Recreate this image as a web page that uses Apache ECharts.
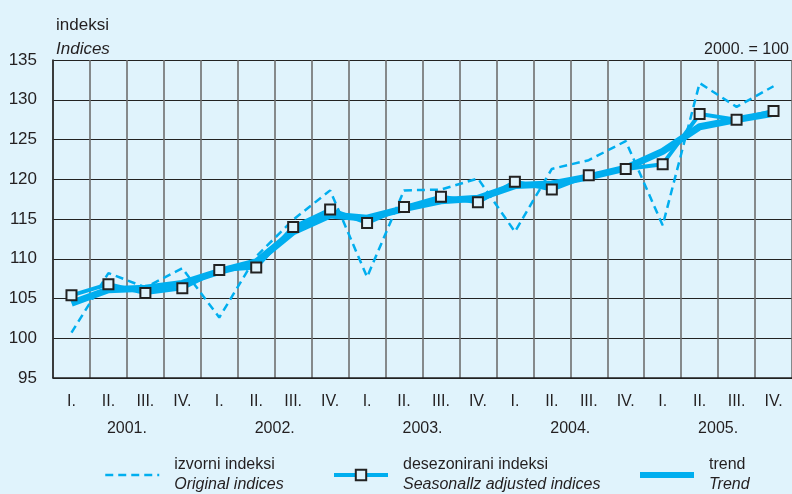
<!DOCTYPE html>
<html>
<head>
<meta charset="utf-8">
<script src="https://cdn.jsdelivr.net/npm/echarts@6/dist/echarts.min.js"></script>
<style>
  html, body { margin: 0; padding: 0; background: #e0f3fc; }
  #main { width: 792px; height: 494px; }
</style>
</head>
<body>
<div id="main"></div>
<script>
// kvartali i godine
var quarters = ['I.', 'II.', 'III.', 'IV.', 'I.', 'II.', 'III.', 'IV.', 'I.', 'II.', 'III.', 'IV.',
                'I.', 'II.', 'III.', 'IV.', 'I.', 'II.', 'III.', 'IV.'];
var years = ['2001.', '2002.', '2003.', '2004.', '2005.'];

// izvorni indeksi / original indices
var original = [100.7, 108.2, 106.4, 108.8, 102.6, 110.3, 114.9, 118.6, 107.7, 118.6,
                118.7, 120.1, 113.4, 121.3, 122.4, 124.8, 114.2, 132.1, 129.1, 131.7];
// desezonirani indeksi / seasonally adjusted
var adjusted = [105.4, 106.8, 105.7, 106.3, 108.6, 108.9, 114.0, 116.2, 114.5, 116.5,
                117.8, 117.1, 119.7, 118.7, 120.5, 121.3, 121.9, 128.2, 127.5, 128.6];
// trend
var trend = [104.4, 106.1, 106.3, 106.9, 108.4, 109.6, 113.4, 115.5, 115.1, 116.3,
             117.3, 117.6, 119.2, 119.4, 120.3, 121.4, 123.5, 126.6, 127.5, 128.3];

var FONT = "'Liberation Sans', Arial, sans-serif";
var FS = 16;
var TXT = '#231f20';
var BLUE = '#00aeef';
var BG = '#e0f3fc';

var myChart = echarts.init(document.getElementById('main'));

function legendBox(name, left, hideSymbol, lineWidth) {
  var lg = {
    data: [name],
    left: left,
    top: 457,
    padding: 0,
    itemWidth: 54,
    itemHeight: 13,
    selectedMode: false,
    formatter: function (n) {
      if (n === 'izvorni') return '{a|izvorni indeksi}\n{b|Original indices}';
      if (n === 'desezonirani') return '{a|desezonirani indeksi}\n{b|Seasonallz adjusted indices}';
      return '{a|trend}\n{b|Trend}';
    },
    lineStyle: { width: lineWidth },
    textStyle: {
      rich: {
        a: { fontFamily: FONT, fontSize: FS, color: TXT, lineHeight: 20, padding: [0, 0, 0, 10] },
        b: { fontFamily: FONT, fontSize: FS, color: TXT, lineHeight: 20, fontStyle: 'italic', padding: [0, 0, 0, 10] }
      }
    }
  };
  if (hideSymbol) {
    lg.itemStyle = { color: 'rgba(0,0,0,0)', borderWidth: 0, opacity: 0 };
  }
  return lg;
}

var option = {
  backgroundColor: BG,
  animation: false,
  title: [
    { text: 'indeksi', left: 51, top: 12, textStyle: { fontFamily: FONT, fontSize: FS + 1, fontWeight: 'normal', color: TXT } },
    { text: 'Indices', left: 51, top: 36, textStyle: { fontFamily: FONT, fontSize: FS + 1, fontWeight: 'normal', fontStyle: 'italic', color: TXT } },
    { text: '2000. = 100', right: -2, top: 37, textStyle: { fontFamily: FONT, fontSize: FS, fontWeight: 'normal', color: TXT } }
  ],
  legend: [
    legendBox('izvorni', 104, true, 2.5),
    legendBox('desezonirani', 332, false, 4),
    legendBox('trend', 637, true, 6)
  ],
  grid: { left: 53, right: -1, top: 60, bottom: 116 },
  xAxis: [
    {
      type: 'category',
      data: quarters,
      boundaryGap: true,
      axisLine: { show: true, lineStyle: { color: '#222', width: 1.5 } },
      axisTick: { show: false },
      axisLabel: { interval: 0, margin: 16, fontFamily: FONT, fontSize: FS, color: TXT },
      splitLine: { show: true, interval: 0, lineStyle: { color: '#6e6e6e', width: 1.6 } }
    },
    {
      type: 'category',
      data: years,
      position: 'bottom',
      offset: 27,
      boundaryGap: true,
      axisLine: { show: false },
      axisTick: { show: false },
      axisLabel: { interval: 0, margin: 16, fontFamily: FONT, fontSize: FS, color: TXT },
      splitLine: { show: false }
    }
  ],
  yAxis: {
    type: 'value',
    min: 95,
    max: 135,
    interval: 5,
    axisLine: { show: true, lineStyle: { color: '#222', width: 1.5 } },
    axisTick: { show: false },
    axisLabel: { margin: 16, fontFamily: FONT, fontSize: FS + 1, color: TXT },
    splitLine: { show: true, lineStyle: { color: '#222', width: 1.2 } }
  },
  series: [
    {
      name: 'izvorni',
      type: 'line',
      data: original,
      symbol: 'none',
      lineStyle: { color: BLUE, width: 2.5, type: [8, 5] },
      itemStyle: { color: BLUE },
      z: 2
    },
    {
      name: 'trend',
      type: 'line',
      data: trend,
      symbol: 'none',
      lineStyle: { color: BLUE, width: 7 },
      itemStyle: { color: BLUE },
      z: 3
    },
    {
      name: 'desezonirani',
      type: 'line',
      data: adjusted,
      symbol: 'rect',
      symbolSize: 10,
      showSymbol: true,
      lineStyle: { color: BLUE, width: 4 },
      itemStyle: { color: BG, borderColor: '#222', borderWidth: 2 },
      z: 4
    }
  ]
};

option && myChart.setOption(option);
</script>
</body>
</html>
